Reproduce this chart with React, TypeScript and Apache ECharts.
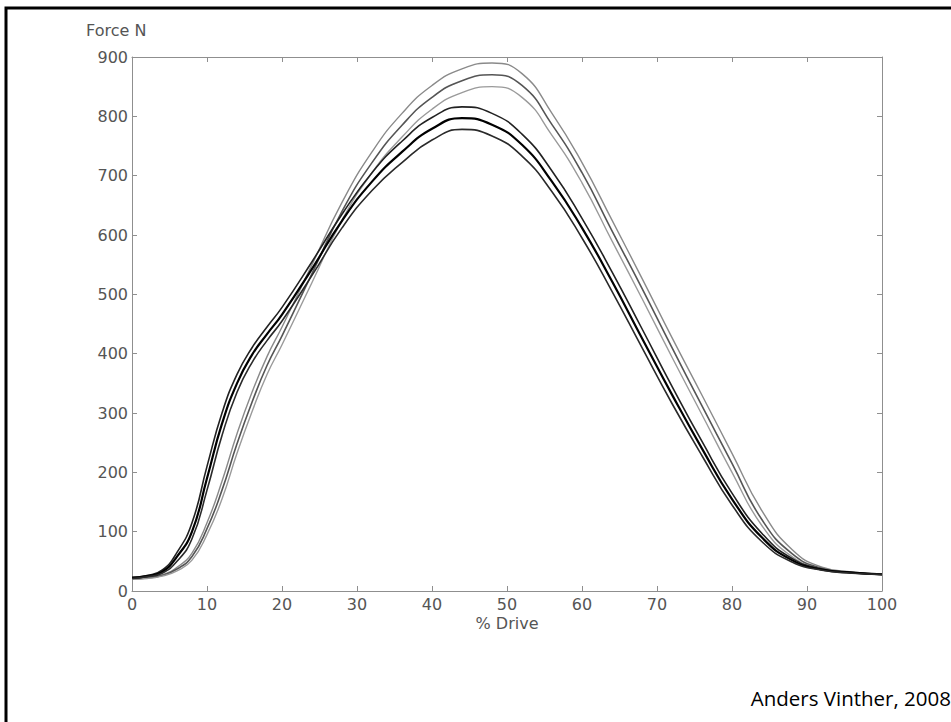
import React, { useEffect, useRef } from "react";
import * as echarts from "echarts";

// % Drive sample positions
const drive = [0, 2, 4, 6, 8, 10, 12, 14, 16, 18, 20, 24, 28, 32, 36, 40, 44, 48, 52, 56, 60, 64, 68, 72, 76, 80, 84, 88, 92, 96, 100];

// Force (N) curves — grey (later, higher peak) and black (earlier, lower peak)
const grey1 = [21, 23, 27, 40, 64, 115, 185, 265, 335, 395, 445, 550, 655, 740, 805, 852, 880, 890, 872, 805, 722, 625, 527, 427, 330, 232, 135, 70, 40, 32, 28];
const grey2 = [20, 22, 26, 37, 58, 105, 170, 248, 318, 380, 430, 535, 640, 722, 785, 832, 860, 870, 852, 786, 705, 607, 510, 410, 312, 215, 120, 63, 38, 31, 28];
const grey3 = [20, 21, 25, 34, 52, 95, 155, 232, 302, 365, 415, 520, 625, 705, 765, 812, 840, 850, 832, 768, 688, 590, 493, 394, 297, 200, 110, 58, 37, 31, 28];
const black1 = [23, 26, 35, 65, 115, 210, 300, 365, 410, 445, 478, 555, 635, 705, 758, 798, 816, 805, 770, 708, 628, 538, 442, 345, 252, 165, 97, 55, 37, 31, 28];
const black2 = [22, 25, 32, 58, 100, 190, 282, 350, 398, 433, 466, 543, 624, 690, 740, 779, 797, 786, 752, 690, 612, 522, 426, 331, 240, 155, 90, 52, 36, 31, 28];
const black3 = [21, 24, 30, 50, 88, 170, 262, 335, 385, 422, 455, 532, 612, 675, 722, 760, 778, 767, 733, 673, 595, 505, 410, 316, 228, 145, 83, 49, 35, 30, 28];

const xTicks = { min: 0, max: 100, interval: 10 };
const yTicks = { min: 0, max: 900, interval: 100 };

const yTitle = "Force N";
const xTitle = "% Drive";
const credit = "Anders Vinther, 2008";

const curves = [
  { name: "g1", values: grey1, color: "#8a8a8a", width: 1.4 },
  { name: "g2", values: grey2, color: "#555555", width: 1.6 },
  { name: "g3", values: grey3, color: "#9a9a9a", width: 1.4 },
  { name: "b1", values: black1, color: "#222222", width: 1.6 },
  { name: "b2", values: black2, color: "#000000", width: 2.2 },
  { name: "b3", values: black3, color: "#2a2a2a", width: 1.6 },
];

const FONT = "DejaVu Sans";
const AXIS_COLOR = "#8f8f8f";
const LABEL_COLOR = "#555555";

export default function App() {
  const ref = useRef<HTMLDivElement>(null);

  useEffect(() => {
    if (!ref.current) return;
    const chart = echarts.init(ref.current, undefined, { renderer: "svg" });

    const axisCommon = {
      axisLine: { show: true, onZero: false, lineStyle: { color: AXIS_COLOR, width: 1 } },
      axisTick: { show: true, inside: true, length: 5, lineStyle: { color: AXIS_COLOR } },
      splitLine: { show: false },
    };

    chart.setOption({
      animation: false,
      backgroundColor: "#ffffff",
      grid: { left: 132, top: 57, width: 750, height: 534, containLabel: false },
      xAxis: [
        {
          type: "value",
          position: "bottom",
          ...xTicks,
          ...axisCommon,
          axisLabel: { show: true, color: LABEL_COLOR, fontFamily: FONT, fontSize: 16, margin: 5 },
        },
        {
          type: "value",
          position: "top",
          ...xTicks,
          ...axisCommon,
          axisLabel: { show: false },
        },
      ],
      yAxis: [
        {
          type: "value",
          position: "left",
          ...yTicks,
          ...axisCommon,
          axisLabel: { show: true, color: LABEL_COLOR, fontFamily: FONT, fontSize: 16, margin: 4 },
        },
        {
          type: "value",
          position: "right",
          ...yTicks,
          ...axisCommon,
          axisLabel: { show: false },
        },
      ],
      series: curves.map((c) => ({
        type: "line",
        name: c.name,
        xAxisIndex: 0,
        yAxisIndex: 0,
        data: drive.map((d, i) => [d, c.values[i]]),
        showSymbol: false,
        smooth: 0.5,
        lineStyle: { color: c.color, width: c.width },
        itemStyle: { color: c.color },
        z: 3,
      })),
      graphic: [
        {
          type: "rect",
          shape: { x: 6, y: 8, width: 1200, height: 1000 },
          style: { fill: "none", stroke: "#000000", lineWidth: 3 },
          silent: true,
        },
        {
          type: "text",
          x: 86,
          y: 30,
          style: {
            text: yTitle,
            fill: LABEL_COLOR,
            font: `16px "${FONT}"`,
            textAlign: "left",
            textVerticalAlign: "middle",
          },
        },
        {
          type: "text",
          x: 507,
          y: 623,
          style: {
            text: xTitle,
            fill: LABEL_COLOR,
            font: `16px "${FONT}"`,
            textAlign: "center",
            textVerticalAlign: "middle",
          },
        },
        {
          type: "text",
          x: 951,
          y: 698,
          style: {
            text: credit,
            fill: "#000000",
            font: `20.5px "Open Sans"`,
            textAlign: "right",
            textVerticalAlign: "middle",
          },
        },
      ],
    });

    return () => {
      chart.dispose();
    };
  }, []);

  return (
    <div
      ref={ref}
      style={{ position: "fixed", left: 0, top: 0, width: 951, height: 722, background: "#fff" }}
    />
  );
}
